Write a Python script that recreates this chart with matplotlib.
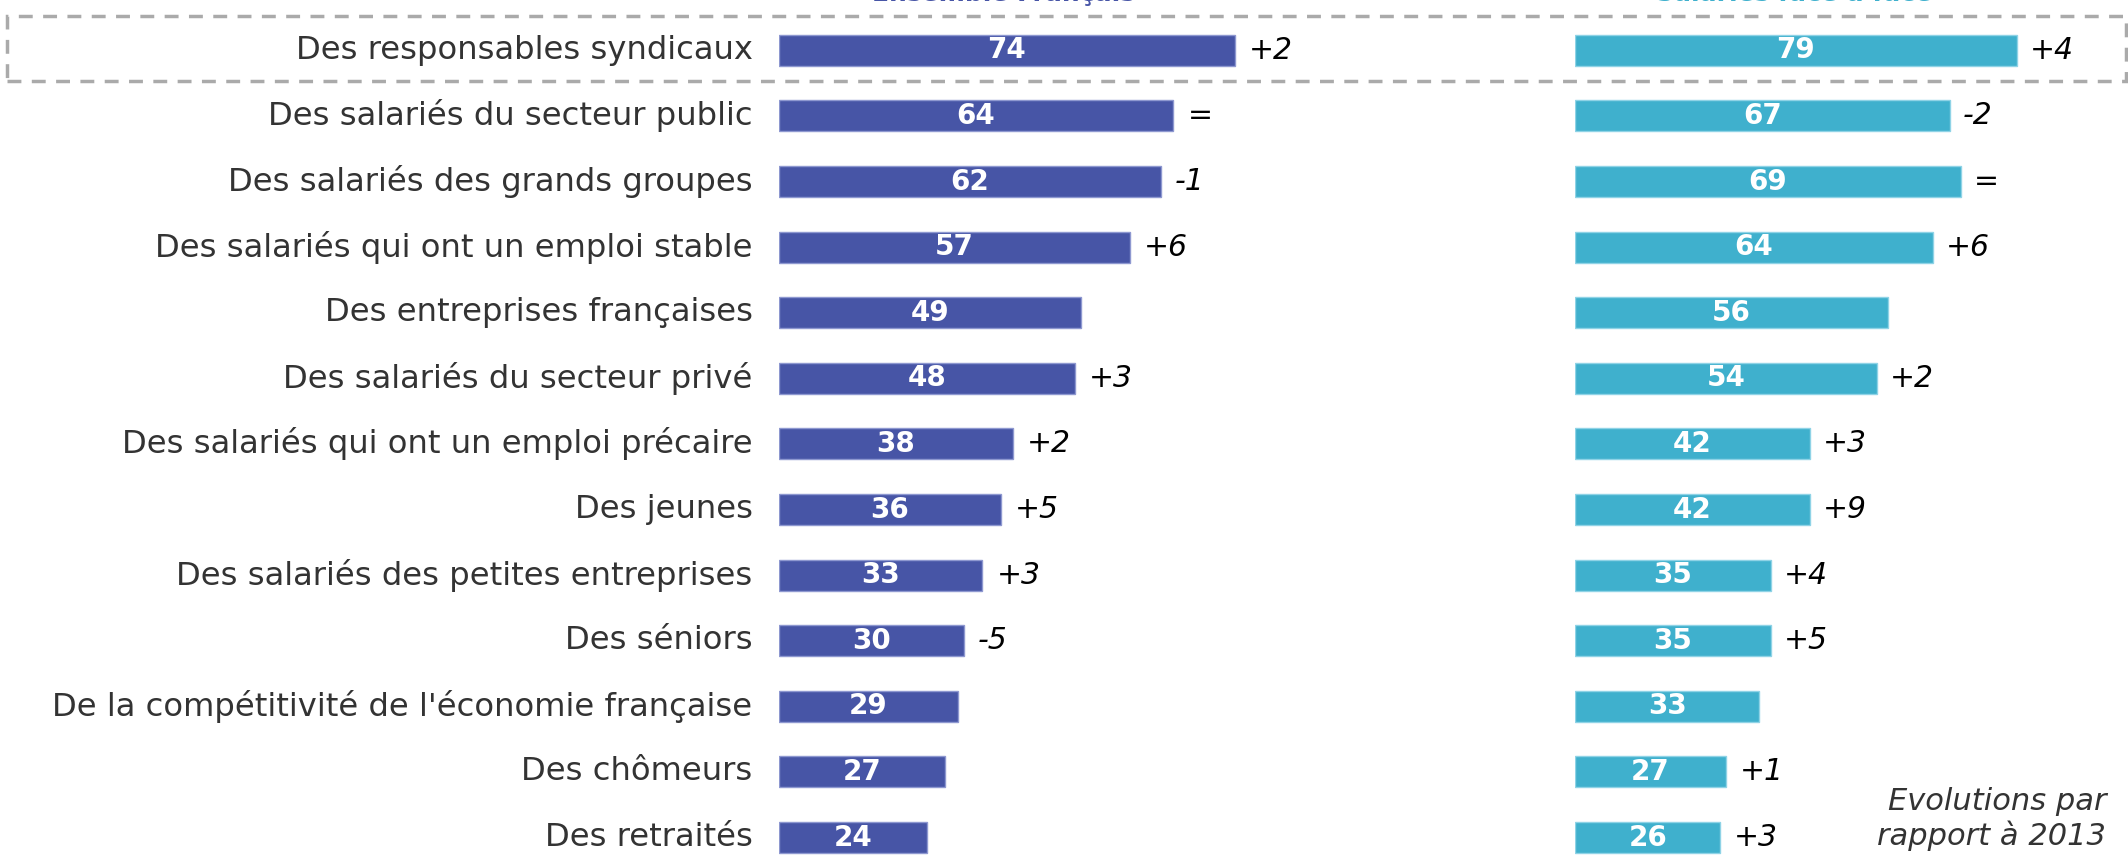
import matplotlib
matplotlib.use("Agg")
import matplotlib.pyplot as plt
from matplotlib.patches import Rectangle

categories = ["Des responsables syndicaux", "Des salariés du secteur public",
              "Des salariés des grands groupes", "Des salariés qui ont un emploi stable",
              "Des entreprises françaises", "Des salariés du secteur privé",
              "Des salariés qui ont un emploi précaire", "Des jeunes",
              "Des salariés des petites entreprises", "Des séniors",
              "De la compétitivité de l'économie française", "Des chômeurs", "Des retraités"]
ensemble = [74, 64, 62, 57, 49, 48, 38, 36, 33, 30, 29, 27, 24]
ensemble_evo = ["+2", "=", "-1", "+6", "", "+3", "+2", "+5", "+3", "-5", "", "", ""]
salaries = [79, 67, 69, 64, 56, 54, 42, 42, 35, 35, 33, 27, 26]
salaries_evo = ["+4", "-2", "=", "+6", "", "+2", "+3", "+9", "+4", "+5", "", "+1", "+3"]
headers = ["Ensemble Français", "Salariés face à face"]
note = "Evolutions par\nrapport à 2013"

W, H = 2128, 859
fig = plt.figure(figsize=(W / 100, H / 100), dpi=100)
plt.rcParams['font.family'] = ['DejaVu Sans']

c_left = "#4755A6"
c_right = "#3FB0CD"

row_top = 17.5
row_h = 65.6
n = len(categories)
ax_bottom = (H - (row_top + row_h * n)) / H
ax_height = row_h * n / H

def make_ax(x0_px, px_per_unit, xmax):
    ax = fig.add_axes([x0_px / W, ax_bottom, px_per_unit * xmax / W, ax_height])
    ax.set_xlim(0, xmax)
    ax.set_ylim(n - 0.5, -0.5)
    ax.axis("off")
    return ax

axL = make_ax(779, 6.16, 100)
axR = make_ax(1575, 5.59, 90)

ys = list(range(n))
for ax, vals, evos, col, edge, gap in [(axL, ensemble, ensemble_evo, c_left, "#8e98d0", 2.3),
                                       (axR, salaries, salaries_evo, c_right, "#8fd3e6", 2.4)]:
    ax.barh(ys, vals, height=0.47, color=col, edgecolor=edge, linewidth=1.0)
    for y, v, e in zip(ys, vals, evos):
        ax.text(v / 2, y, str(v), ha="center", va="center", color="white",
                fontsize=20, fontweight="bold")
        if e:
            ax.text(v + gap, y, e, ha="left", va="center", color="black",
                    fontsize=21.5, style="italic" if e != "=" else "normal")

for y, c in zip(ys, categories):
    axL.text(-4.3, y, c, ha="right", va="center", fontsize=23.2, color="#333333")

# headers (cut off at top, as in the original)
fig.text(1004 / W, (H - 1) / H, headers[0], ha="center", va="baseline",
         fontsize=18, fontweight="bold", color=c_left)
fig.text(1794 / W, (H - 1) / H, headers[1], ha="center", va="baseline",
         fontsize=18, fontweight="bold", color=c_right)

# dashed highlight box
box = Rectangle((7 / W, (H - 81) / H), (2126 - 7) / W, 65 / H, transform=fig.transFigure,
                fill=False, edgecolor="#aaaaaa", linestyle=(0, (4, 3)), linewidth=2.5,
                zorder=5)
fig.patches.append(box)

fig.text(2106 / W, (H - 819) / H, note, ha="right", va="center", fontsize=22,
         style="italic", color="#333333", linespacing=1.15)

fig.savefig("out.png", dpi=100)
